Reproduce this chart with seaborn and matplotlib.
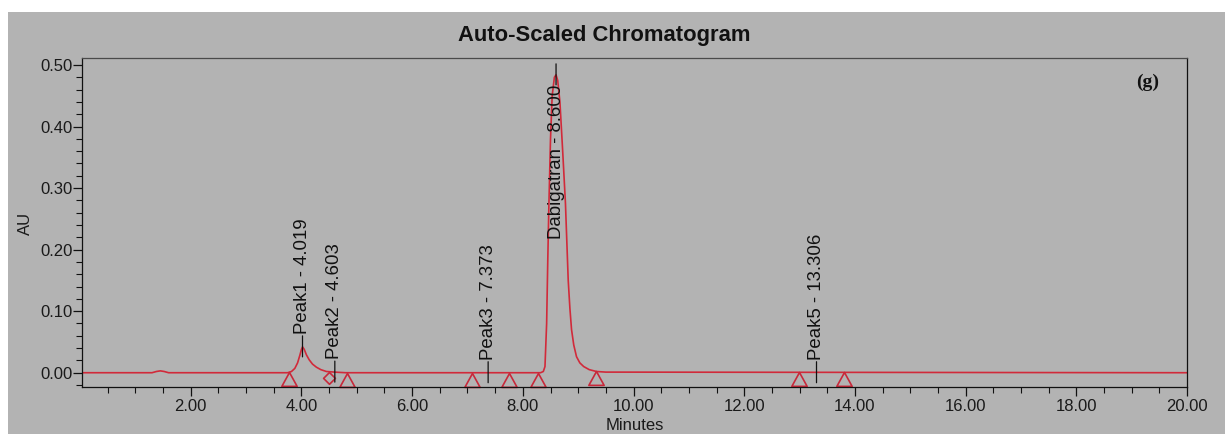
import numpy as np
import matplotlib
matplotlib.use("Agg")
import matplotlib.pyplot as plt
import matplotlib.transforms as mtransforms
from matplotlib.markers import MarkerStyle
from matplotlib.path import Path
from matplotlib.patches import Rectangle
from matplotlib.ticker import MultipleLocator, FormatStrFormatter
import seaborn as sns

# Detector trace (time in minutes, absorbance in AU)
trace_time = [0.04, 1.30, 1.38, 1.45, 1.52, 1.60, 3.75, 3.82, 3.88, 3.93, 3.97, 4.00,
              4.02, 4.05, 4.09, 4.14, 4.20, 4.27, 4.35, 4.45, 4.60, 4.80, 8.32, 8.37,
              8.40, 8.43, 8.45, 8.47, 8.50, 8.53, 8.57, 8.60, 8.63, 8.67, 8.72, 8.77,
              8.80, 8.82, 8.85, 8.88, 8.92, 8.97, 9.03, 9.10, 9.20, 9.33, 9.50, 20.0]
trace_au = [0.000, 0.000, 0.002, 0.003, 0.002, 0.000, 0.000, 0.002, 0.007, 0.016, 0.028, 0.038,
            0.042, 0.038, 0.029, 0.021, 0.014, 0.009, 0.005, 0.002, 0.001, 0.000, 0.000, 0.002,
            0.010, 0.080, 0.180, 0.270, 0.380, 0.450, 0.480, 0.484, 0.475, 0.440, 0.360, 0.275,
            0.200, 0.150, 0.105, 0.070, 0.045, 0.026, 0.016, 0.010, 0.005, 0.002, 0.001, 0.000]

# Integrated peaks
peak_names = ["Peak1", "Peak2", "Peak3", "Dabigatran", "Peak5"]
peak_times = [4.019, 4.603, 7.373, 8.600, 13.306]
peak_heights = [0.042, 0.001, 0.000, 0.484, 0.000]

# Integration boundaries (start/end of each peak); "valley" marks a shared drop point
boundary_times = [3.78, 4.50, 4.82, 7.09, 7.75, 8.27, 9.33, 12.99, 13.80]
boundary_kinds = ["edge", "valley", "edge", "edge", "edge", "edge", "edge", "edge", "edge"]

x_ticks = [2, 4, 6, 8, 10, 12, 14, 16, 18, 20]
y_ticks = [0.0, 0.1, 0.2, 0.3, 0.4, 0.5]

sns.set_style("ticks")
plt.rcParams["font.family"] = ["Liberation Sans", "DejaVu Sans"]

W, H, DPI = 1225, 434, 100
fig = plt.figure(figsize=(W / DPI, H / DPI), dpi=DPI, facecolor="white")
panel_gray = "#b3b3b3"
fig.patches.append(Rectangle((8 / W, 0), 1 - 8 / W, 1 - 12 / H, transform=fig.transFigure,
                             facecolor=panel_gray, edgecolor="none", zorder=-5))

ax = fig.add_axes([82 / W, (H - 387) / H, (1187 - 82) / W, (387 - 58) / H])
ax.set_facecolor(panel_gray)
ax.set_zorder(2)

trace_red = "#d12a3a"
sns.lineplot(x=trace_time, y=trace_au, ax=ax, color=trace_red, linewidth=1.2,
             estimator=None, sort=False)

# Boundary markers hang below the trace with their apex on the baseline
tri = MarkerStyle(Path([(0, 0), (-0.55, -1), (0.55, -1), (0, 0)], closed=True))
dia = MarkerStyle(Path([(0, 0), (0.5, -0.5), (0, -1), (-0.5, -0.5), (0, 0)], closed=True))
base = np.interp(boundary_times, trace_time, trace_au)
for t, b, kind in zip(boundary_times, base, boundary_kinds):
    if kind == "edge":
        ax.plot([t], [b], linestyle="none", marker=tri, markersize=20,
                markerfacecolor="none", markeredgecolor="#c8283a", markeredgewidth=1.2,
                clip_on=False)
    else:
        ax.plot([t], [b], linestyle="none", marker=dia, markersize=17,
                markerfacecolor="none", markeredgecolor="#c8283a", markeredgewidth=1.2,
                clip_on=False)

ax.set_xlim(0.035, 20.0)
ax.set_ylim(-0.0232, 0.5114)

# Peak apex ticks and retention-time labels
top_limit = ax.get_ylim()[1]
for name, t, h in zip(peak_names, peak_times, peak_heights):
    low = mtransforms.offset_copy(ax.transData, fig=fig, y=-10, units="dots")
    high = mtransforms.offset_copy(ax.transData, fig=fig, y=11, units="dots")
    ax.annotate("", xy=(t, h), xycoords=low, xytext=(t, h), textcoords=high,
                arrowprops=dict(arrowstyle="-", color="#111111", lw=0.9,
                                shrinkA=0, shrinkB=0))
    label = f"{name} - {t:.3f}"
    if h > 0.3 * top_limit:
        ax.annotate(label, xy=(t, h), xytext=(0, -10), textcoords="offset pixels",
                    rotation=90, ha="center", va="top", fontsize=13.4, color="#111111")
    else:
        ax.annotate(label, xy=(t, h), xytext=(0, 13), textcoords="offset pixels",
                    rotation=90, ha="center", va="bottom", fontsize=13.4, color="#111111")

ax.set_xticks(x_ticks)
ax.xaxis.set_minor_locator(MultipleLocator(0.5))
ax.xaxis.set_major_formatter(FormatStrFormatter("%.2f"))
ax.set_yticks(y_ticks)
ax.yaxis.set_minor_locator(MultipleLocator(0.02))
ax.yaxis.set_major_formatter(FormatStrFormatter("%.2f"))

ax.tick_params(axis="both", which="major", direction="out", length=6.5, width=0.9,
               color="#111111", labelsize=12, labelcolor="#1a1a1a")
ax.tick_params(axis="both", which="minor", direction="out", length=4.3, width=0.8,
               color="#111111")
ax.tick_params(axis="x", which="major", pad=2)
ax.tick_params(axis="y", which="major", pad=0.5)

for side in ["left", "bottom", "right"]:
    ax.spines[side].set_visible(True)
    ax.spines[side].set_color("#111111")
    ax.spines[side].set_linewidth(0.9)
ax.spines["top"].set_visible(True)
ax.spines["top"].set_color("#4a4a4a")
ax.spines["top"].set_linewidth(0.9)

ax.set_xlabel("")
ax.set_ylabel("")
fig.text(604 / W, 1 - 36 / H, "Auto-Scaled Chromatogram", ha="center", va="center",
         fontsize=15.8, fontweight="bold", color="#111111")
fig.text(25 / W, 1 - 223 / H, "AU", rotation=90, ha="center", va="center",
         fontsize=12, color="#1a1a1a")
fig.text(635 / W, 1 - 425 / H, "Minutes", ha="center", va="center",
         fontsize=12, color="#1a1a1a")
fig.text(1148 / W, 1 - 82 / H, "(g)", ha="center", va="center",
         fontsize=14, fontweight="bold", family="Liberation Serif", color="#111111")

fig.savefig("out.png", dpi=DPI, facecolor="white")
